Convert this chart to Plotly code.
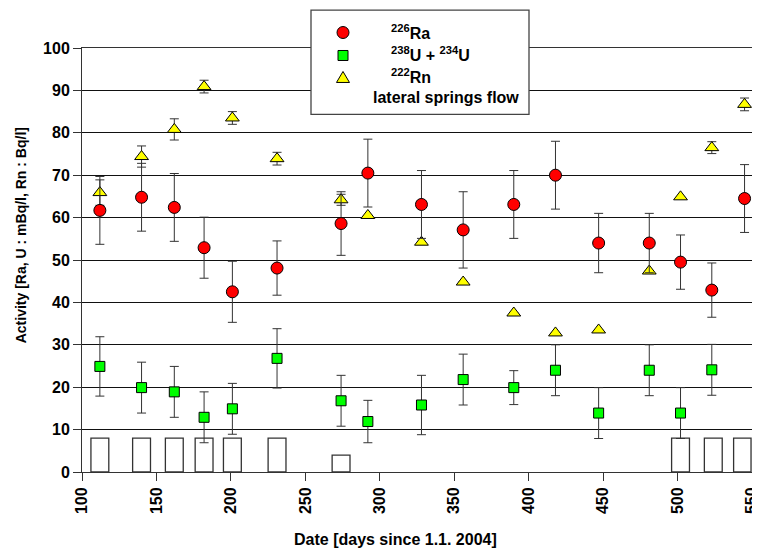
import plotly.graph_objects as go

# ---- data ----
days = [112, 140, 162, 182, 201, 231, 274, 292, 328, 356, 390, 418, 447, 481, 502, 523, 545]
ra = [61.7, 64.8, 62.4, 52.9, 42.5, 48.1, 58.6, 70.5, 63.1, 57.1, 63.1, 70.0, 54.0, 54.0, 49.5, 42.9, 64.5]
ra_err = [8, 8, 8, 7.2, 7.2, 6.4, 7.5, 8, 8, 9, 8, 8, 7, 7, 6.4, 6.4, 8]
u_days = [112, 140, 162, 182, 201, 231, 274, 292, 328, 356, 390, 418, 447, 481, 502, 523]
u = [24.9, 19.9, 18.9, 12.9, 14.9, 26.8, 16.8, 11.9, 15.8, 21.8, 19.9, 24.0, 13.9, 24.0, 13.9, 24.1]
u_err = [7, 6, 6, 6, 6, 7, 6, 5, 7, 6, 4, 6, 6, 6, 6, 6]
rn = [65.9, 74.4, 80.8, 90.9, 83.5, 73.9, 64.2, 60.5, 54.2, 44.8, 37.5, 32.8, 33.5, 47.4, 64.9, 76.5, 86.7]
rn_err = [3, 2.5, 2.5, 1.5, 1.5, 1.5, 1.3, None, None, None, None, None, None, None, None, 1.4, 1.5]
flow_days = [112, 140, 162, 182, 201, 231, 274, 502, 524, 543.5]
flow = [8, 8, 8, 8, 8, 8, 4, 8, 8, 8]
flow_width = [12, 12, 12, 12, 12, 12, 12, 12, 12, 11.7]

x_ticks = [100, 150, 200, 250, 300, 350, 400, 450, 500, 550]
y_ticks = [0, 10, 20, 30, 40, 50, 60, 70, 80, 90, 100]

FONT = "Liberation Sans"
OFF = 8  # page body margin
W, H = 760 - OFF, 554 - OFF
# plot area in page pixels: x 82..752, y 47.5..472
L, R, T, B = 82 - OFF, 760 - 752, 47.5 - OFF, 554 - 472
PW, PH = W - L - R, H - T - B


def px(x):
    # page pixel -> paper
    return (x - OFF - L) / PW


def py(y):
    return (H - B - (y - OFF)) / PH


fig = go.Figure()

fig.add_trace(go.Bar(
    x=flow_days, y=flow, width=flow_width,
    marker=dict(color="white", line=dict(color="#333333", width=1.3)),
    name="lateral springs flow", showlegend=False,
))

err_style = dict(type="data", color="#333333", thickness=1, width=4.5)

fig.add_trace(go.Scatter(
    x=days, y=rn, mode="markers", name="222Rn", showlegend=False,
    error_y=dict(array=rn_err, **err_style),
    marker=dict(symbol="triangle-up", size=12, color="#ffff00",
                line=dict(color="#000000", width=1)),
))
fig.add_trace(go.Scatter(
    x=days, y=ra, mode="markers", name="226Ra", showlegend=False,
    error_y=dict(array=ra_err, **err_style),
    marker=dict(symbol="circle", size=12, color="#ff0000",
                line=dict(color="#000000", width=1)),
))
fig.add_trace(go.Scatter(
    x=u_days, y=u, mode="markers", name="238U + 234U", showlegend=False,
    error_y=dict(array=u_err, **err_style),
    marker=dict(symbol="square", size=10, color="#00ff00",
                line=dict(color="#000000", width=1)),
))

tickfont = dict(family=FONT, size=16, color="#000000", weight="bold")

fig.update_xaxes(
    range=[100, 550], tickvals=x_ticks, ticktext=[str(v) for v in x_ticks],
    tickangle=-90, ticks="outside", ticklen=8, tickcolor="#333333",
    showline=True, linecolor="#333333", linewidth=1, mirror=True,
    showgrid=False, zeroline=False, tickfont=tickfont,
    ticklabeloverflow="allow",
)
fig.update_yaxes(
    range=[0, 100], tickvals=y_ticks, ticktext=[str(v) for v in y_ticks],
    ticks="outside", ticklen=8, tickcolor="#333333",
    showline=True, linecolor="#333333", linewidth=1, mirror=True,
    showgrid=True, gridcolor="#111111", gridwidth=1, zeroline=False,
    tickfont=tickfont, ticklabeloverflow="allow",
)

shapes = []
# legend box
shapes.append(dict(type="rect", xref="paper", yref="paper",
                   x0=px(311), x1=px(529), y0=py(114), y1=py(9.5),
                   fillcolor="white", line=dict(color="#444444", width=1.3),
                   layer="above"))
# legend symbols
cx, r = 343, 6
shapes.append(dict(type="circle", xref="paper", yref="paper",
                   x0=px(cx - r), x1=px(cx + r), y0=py(32 + r), y1=py(32 - r),
                   fillcolor="#ff0000", line=dict(color="#000000", width=1),
                   layer="above"))
s = 5
shapes.append(dict(type="rect", xref="paper", yref="paper",
                   x0=px(cx - s), x1=px(cx + s), y0=py(55 + s), y1=py(55 - s),
                   fillcolor="#00ff00", line=dict(color="#000000", width=1),
                   layer="above"))
ty = 77
tri = "M {:.5f},{:.5f} L {:.5f},{:.5f} L {:.5f},{:.5f} Z".format(
    px(cx - 6.5), py(ty + 5), px(cx + 6.5), py(ty + 5), px(cx), py(ty - 6))
shapes.append(dict(type="path", xref="paper", yref="paper", path=tri,
                   fillcolor="#ffff00", line=dict(color="#000000", width=1),
                   layer="above"))

ann_font = dict(family=FONT, size=16, color="#000000", weight="bold")
annotations = [
    dict(text="<sup>226</sup>Ra", x=px(389), y=py(31), xanchor="left", yanchor="middle"),
    dict(text="<sup>238</sup>U + <sup>234</sup>U", x=px(389), y=py(54), xanchor="left", yanchor="middle"),
    dict(text="<sup>222</sup>Rn", x=px(389), y=py(76), xanchor="left", yanchor="middle"),
    dict(text="lateral springs flow", x=px(371), y=py(97), xanchor="left", yanchor="middle"),
]
for a in annotations:
    a.update(xref="paper", yref="paper", showarrow=False, font=ann_font)

annotations.append(dict(
    text="Date [days since 1.1. 2004]", xref="paper", yref="paper",
    x=px(395.5), y=py(540), xanchor="center", yanchor="middle", showarrow=False,
    font=dict(family=FONT, size=16, color="#000000", weight="bold")))
annotations.append(dict(
    text="Activity [Ra, U : mBq/l, Rn : Bq/l]", xref="paper", yref="paper",
    x=px(21), y=py(235), xanchor="center", yanchor="middle", showarrow=False,
    textangle=-90,
    font=dict(family=FONT, size=14, color="#000000", weight="bold")))

fig.update_layout(
    width=W, height=H, margin=dict(l=L, r=R, t=T, b=B, autoexpand=False),
    paper_bgcolor="white", plot_bgcolor="white",
    showlegend=False, shapes=shapes, annotations=annotations,
    barmode="overlay", font=dict(family=FONT),
)

fig.write_html("out.html")
